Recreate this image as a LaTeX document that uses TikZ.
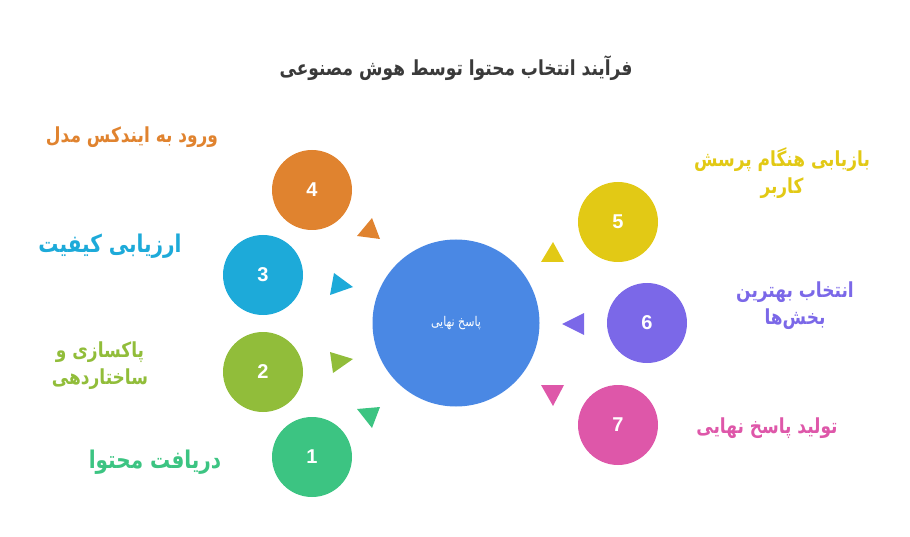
\documentclass[tikz,border=0pt]{standalone}
\usepackage{fontspec}
\setmainfont{Liberation Sans}
\newfontfamily\arabicfont[Script=Arabic]{DejaVu Sans}
\TeXXeTstate=1
\usepackage{xcolor}
\usetikzlibrary{calc}

\definecolor{TitleGray}{HTML}{3A3A3A}
\definecolor{StepOrange}{HTML}{E0832F}
\definecolor{StepBlue}{HTML}{1DAAD9}
\definecolor{StepLime}{HTML}{91BD3A}
\definecolor{StepGreen}{HTML}{3CC482}
\definecolor{StepYellow}{HTML}{E2C915}
\definecolor{StepPurple}{HTML}{7B68E8}
\definecolor{StepPink}{HTML}{DE57A9}
\definecolor{CoreBlue}{HTML}{4A88E4}

% one right-to-left line, a little taller
\newcommand{\faline}[1]{\scalebox{1}[1.22]{\beginR #1\endR}}

\tikzset{
  stepdot/.style={circle, minimum size=80pt, inner sep=0pt, text=white,
    font=\fontsize{20}{24}\selectfont\bfseries},
  steplabel/.style={align=center, font=\arabicfont\bfseries\fontsize{17}{27}\selectfont},
}

\begin{document}
\begin{tikzpicture}[x=1pt,y=-1pt]
  \useasboundingbox (0,0) rectangle (910,537);

  \coordinate (O) at (456,323);

  % title
  \node[text=TitleGray, font=\arabicfont\bfseries\fontsize{17}{20}\selectfont] (title) at (456,68)
    {\faline{فرآیند انتخاب محتوا توسط هوش مصنوعی}};

  % central circle
  \node[circle, fill=CoreBlue, minimum size=167pt, inner sep=0pt, text=white,
    font=\arabicfont\fontsize{11}{13}\selectfont] (core) at (O) {\faline{پاسخ نهایی}};

  % step circles
  \node[stepdot, fill=StepGreen]  (s1) at (312,457) {1};
  \node[stepdot, fill=StepLime]   (s2) at (263,372) {2};
  \node[stepdot, fill=StepBlue]   (s3) at (263,275) {3};
  \node[stepdot, fill=StepOrange] (s4) at (312,190) {4};
  \node[stepdot, fill=StepYellow] (s5) at (618,222) {5};
  \node[stepdot, fill=StepPurple] (s6) at (647,323) {6};
  \node[stepdot, fill=StepPink]   (s7) at (618,425) {7};

  % pointers
  \fill[StepOrange] (372,218) -- (357,236) -- (380,239) -- cycle;
  \fill[StepBlue]   (334,273) -- (353,287) -- (330,295) -- cycle;
  \fill[StepLime]   (330,352) -- (353,359) -- (333,373) -- cycle;
  \fill[StepGreen]  (357,409) -- (380,407) -- (372,428) -- cycle;
  \fill[StepYellow] (541,262) -- (553,242) -- (564,262) -- cycle;
  \fill[StepPurple] (562,324) -- (584,313) -- (584,335) -- cycle;
  \fill[StepPink]   (541,385) -- (564,385) -- (553,406) -- cycle;

  % labels
  \node[steplabel, text=StepGreen, font=\arabicfont\bfseries\fontsize{20}{27}\selectfont] (l1) at (155,462)
    {\faline{دریافت محتوا}};
  \node[steplabel, text=StepLime] (l2) at (100,366)
    {\faline{پاکسازی و}\\\faline{ساختاردهی}};
  \node[steplabel, text=StepBlue, font=\arabicfont\bfseries\fontsize{20}{27}\selectfont] (l3) at (110,246)
    {\faline{ارزیابی کیفیت}};
  \node[steplabel, text=StepOrange] (l4) at (132,137)
    {\faline{ورود به ایندکس مدل}};
  \node[steplabel, text=StepYellow] (l5) at (782,173)
    {\faline{بازیابی هنگام پرسش}\\\faline{کاربر}};
  \node[steplabel, text=StepPurple] (l6) at (795,306)
    {\faline{انتخاب بهترین}\\\faline{بخش‌ها}};
  \node[steplabel, text=StepPink] (l7) at (767,428)
    {\faline{تولید پاسخ نهایی}};

\end{tikzpicture}
\end{document}
